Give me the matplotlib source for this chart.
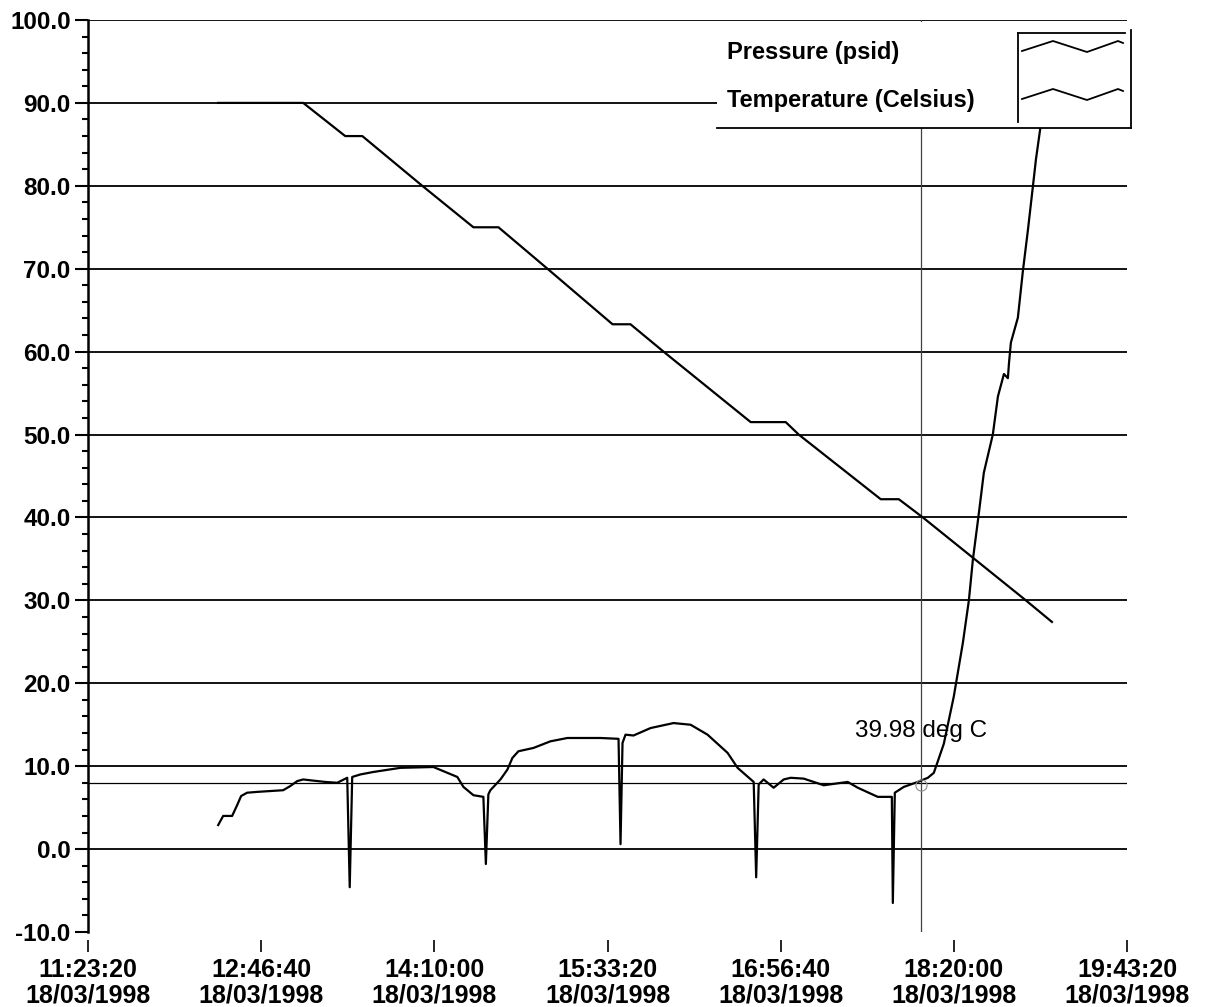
import numpy as np
import matplotlib
matplotlib.use("Agg")
import matplotlib.pyplot as plt
from matplotlib.lines import Line2D
from matplotlib.patches import Rectangle
from matplotlib.ticker import MultipleLocator, FormatStrFormatter

plt.rcParams['font.family'] = ['Liberation Sans', 'DejaVu Sans']

# times are decimal hours on 18/03/1998
press_time = [12.433, 13.115, 13.452, 13.589, 14.070, 14.480, 14.681, 15.074,
              15.596, 15.740, 16.005, 16.704, 16.985, 17.089, 17.747, 17.892,
              18.085, 18.911, 19.120]
press_val = [90.0, 90.0, 86.0, 86.0, 80.0, 75.0, 75.0, 70.0,
             63.3, 63.3, 60.0, 51.5, 51.5, 50.0, 42.2, 42.2,
             40.0, 30.0, 27.4]

temp_time = [12.433, 12.473, 12.545, 12.585, 12.617, 12.665, 12.746, 12.850,
             12.954, 13.011, 13.067, 13.115, 13.171, 13.292, 13.388, 13.468,
             13.488, 13.508, 13.573, 13.677, 13.894, 14.159, 14.271, 14.351,
             14.400, 14.480, 14.560, 14.580, 14.600, 14.616, 14.697, 14.753,
             14.793, 14.841, 14.962, 15.098, 15.234, 15.499, 15.644, 15.660,
             15.676, 15.700, 15.764, 15.901, 16.085, 16.222, 16.358, 16.519,
             16.599, 16.728, 16.748, 16.768, 16.808, 16.888, 16.969, 17.025,
             17.129, 17.290, 17.482, 17.563, 17.723, 17.836, 17.844, 17.860,
             17.932, 18.044, 18.125, 18.173, 18.253, 18.333, 18.406, 18.454,
             18.486, 18.534, 18.574, 18.646, 18.687, 18.735, 18.767, 18.775,
             18.791, 18.847, 18.887, 18.927, 18.968, 18.992, 19.032, 19.056]
temp_val = [2.9, 4.0, 4.0, 5.3, 6.4, 6.8, 6.9, 7.0,
            7.1, 7.6, 8.2, 8.4, 8.3, 8.1, 8.0, 8.6,
            -4.6, 8.7, 9.0, 9.3, 9.8, 9.9, 9.2, 8.7,
            7.5, 6.5, 6.3, -1.8, 6.6, 7.1, 8.4, 9.6,
            11.0, 11.8, 12.2, 13.0, 13.4, 13.4, 13.3, 0.6,
            12.8, 13.8, 13.7, 14.6, 15.2, 15.0, 13.8, 11.6,
            9.8, 8.1, -3.4, 7.8, 8.4, 7.4, 8.4, 8.6,
            8.5, 7.7, 8.1, 7.4, 6.3, 6.3, -6.5, 6.8,
            7.5, 8.1, 8.6, 9.2, 12.7, 18.4, 24.9, 30.0,
            34.9, 40.5, 45.4, 50.0, 54.6, 57.3, 56.8, 58.5,
            61.1, 64.1, 69.7, 74.6, 80.0, 83.2, 87.5, 90.5]

tick_times = ["11:23:20", "12:46:40", "14:10:00", "15:33:20",
              "16:56:40", "18:20:00", "19:43:20"]
tick_date = "18/03/1998"

cursor_time = 18.068
cursor_level = 8.0
cursor_text = "39.98 deg C"
legend_labels = ["Pressure (psid)", "Temperature (Celsius)"]


def to_hours(s):
    h, m, sec = (int(p) for p in s.split(":"))
    return h + m / 60 + sec / 3600


tick_pos = [to_hours(s) for s in tick_times]

W, H = 1205, 1007
fig = plt.figure(figsize=(W / 100, H / 100), dpi=100)
ax = fig.add_axes([88 / W, 1 - 932 / H, 1039 / W, 912 / H])

# grid lines (no line at -10)
for lev in range(0, 101, 10):
    ax.axhline(lev, color='black', lw=1.3, zorder=1)

# cursor
ax.axhline(cursor_level, color='black', lw=0.9, zorder=1)
ax.axvline(cursor_time, color='0.25', lw=0.9, zorder=1)

ax.plot(press_time, press_val, color='black', lw=1.6, zorder=3)
ax.plot(temp_time, temp_val, color='black', lw=1.6, zorder=3)
ax.plot([cursor_time], [cursor_level - 0.3], marker='o', ms=8, mfc='none',
        mec='0.55', mew=0.8, ls='none', zorder=4)
ax.text(cursor_time, 14.2, cursor_text, ha='center', va='center',
        fontsize=17.5, zorder=4)

ax.set_xlim(tick_pos[0], tick_pos[-1])
ax.set_ylim(-10, 100)

for side in ['top', 'right']:
    ax.spines[side].set_visible(False)
ax.spines['bottom'].set_color('none')
ax.spines['bottom'].set_position(('outward', 6))
ax.spines['left'].set_linewidth(1.8)

ax.yaxis.set_major_locator(MultipleLocator(10))
ax.yaxis.set_minor_locator(MultipleLocator(2))
ax.yaxis.set_major_formatter(FormatStrFormatter('%.1f'))
ax.tick_params(axis='y', which='major', length=9.5, width=1.5, pad=3,
               labelsize=17.5)
ax.tick_params(axis='y', which='minor', length=4.5, width=1.5)
ax.set_xticks(tick_pos)
ax.set_xticklabels([f"{t}\n{tick_date}" for t in tick_times])
ax.tick_params(axis='x', length=8.5, width=1.2, pad=4, labelsize=18)
for lbl in ax.get_xticklabels():
    lbl.set_linespacing(1.08)
    lbl.set_fontweight('bold')
for lbl in ax.get_yticklabels():
    lbl.set_fontweight('bold')

# legend box (drawn by hand, covers the top right corner)
def px(x, y):
    return (x - 88) / 1039, (932 - y) / 912

x0, y0 = px(717, 128)
x1, y1 = px(1131, 22)
ax.add_patch(Rectangle((x0, y0), x1 - x0, y1 - y0, transform=ax.transAxes,
                       facecolor='white', edgecolor='none', zorder=5,
                       clip_on=False))
kw = dict(transform=ax.transAxes, color='black', lw=1.3, zorder=6,
          clip_on=False)
ax.add_line(Line2D([x0, x1], [y0, y0], **kw))
ax.add_line(Line2D([x1, x1], [y0, px(0, 30)[1]], **kw))
bx0, by0 = px(1018, 122)
bx1, by1 = px(1125, 33)
ax.add_line(Line2D([bx0, bx0], [by0, by1], **kw))
ax.add_line(Line2D([bx0, bx1], [by1, by1], **kw))

zig_x = [1022, 1053, 1087, 1118, 1123]
zig_dy = [0, -10, 1, -10, -8]
for i, (lab, yc) in enumerate(zip(legend_labels, [52, 100])):
    tx, ty = px(727, yc)
    ax.text(tx, ty, lab, transform=ax.transAxes, ha='left', va='center',
            fontsize=17, fontweight='bold', zorder=6)
    pts = [px(zx, yc - 1 + dy) for zx, dy in zip(zig_x, zig_dy)]
    ax.add_line(Line2D([p[0] for p in pts], [p[1] for p in pts],
                       transform=ax.transAxes, color='black', lw=1.3,
                       zorder=6, clip_on=False))

fig.savefig("out.png", dpi=100)
